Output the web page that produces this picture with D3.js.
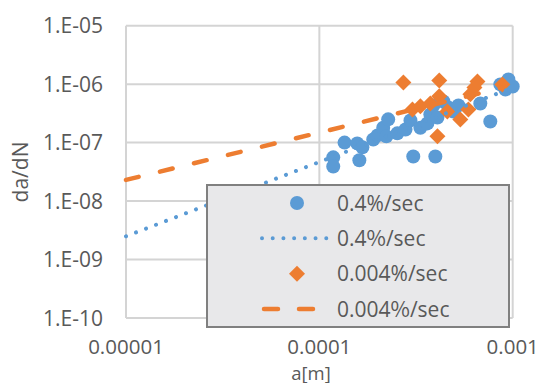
<!DOCTYPE html>
<html>
<head>
<meta charset="utf-8">
<script src="https://cdn.jsdelivr.net/npm/d3@7"></script>
<style>
  body { margin: 0; background: #fff; }
  text { font-family: "Open Sans", sans-serif; fill: #595959; }
</style>
</head>
<body>
<script>
// measured points, 0.4%/sec  [a, da/dN]
const fastPoints = [
  [1.18e-4, 5.6e-8], [1.18e-4, 3.9e-8], [1.35e-4, 1.0e-7], [1.57e-4, 9.7e-8],
  [1.67e-4, 8.3e-8], [1.61e-4, 5.0e-8], [1.90e-4, 1.13e-7], [2.0e-4, 1.33e-7],
  [2.14e-4, 1.8e-7], [2.27e-4, 2.5e-7], [2.22e-4, 1.28e-7], [2.53e-4, 1.44e-7],
  [2.79e-4, 1.68e-7], [2.96e-4, 2.4e-7], [3.06e-4, 5.8e-8], [3.33e-4, 1.8e-7],
  [3.62e-4, 2.13e-7], [3.75e-4, 3.03e-7], [3.89e-4, 4.33e-7], [3.98e-4, 5.8e-8],
  [4.08e-4, 2.69e-7], [4.38e-4, 5.06e-7], [4.65e-4, 4.0e-7], [4.93e-4, 3.41e-7],
  [5.24e-4, 4.33e-7], [6.8e-4, 4.68e-7], [7.66e-4, 2.3e-7], [8.63e-4, 9.9e-7],
  [9.17e-4, 8.1e-7], [9.5e-4, 1.2e-6], [1.0e-3, 9.1e-7]
]
// measured points, 0.004%/sec
const slowPoints = [
  [2.72e-4, 1.07e-6], [4.17e-4, 1.16e-6], [4.17e-4, 6.2e-7], [3.03e-4, 3.7e-7],
  [3.33e-4, 4.2e-7], [3.75e-4, 4.68e-7], [4.08e-4, 1.28e-7], [4.59e-4, 3.41e-7],
  [5.36e-4, 2.49e-7], [5.9e-4, 3.7e-7], [6.04e-4, 6.7e-7], [6.34e-4, 8.8e-7],
  [6.57e-4, 1.11e-6], [8.84e-4, 9.9e-7]
]
// trendline ends
const fastTrend = [[1e-5, 2.5e-9], [1.0e-3, 8.7e-7]]
const slowTrend = [[1e-5, 2.3e-8], [8.84e-4, 8.7e-7]]

const xTicks = [1e-5, 1e-4, 1e-3]
const xTickLabels = ["0.00001", "0.0001", "0.001"]
const yTicks = [1e-10, 1e-9, 1e-8, 1e-7, 1e-6, 1e-5]
const yTickLabels = ["1.E-10", "1.E-09", "1.E-08", "1.E-07", "1.E-06", "1.E-05"]

const legendItems = [
  { label: "0.4%/sec", kind: "circle", color: "#5b9bd5", cjk: false },
  { label: "0.4%/sec", kind: "dot", color: "#5b9bd5", cjk: true },
  { label: "0.004%/sec", kind: "diamond", color: "#ed7d31", cjk: false },
  { label: "0.004%/sec", kind: "dash", color: "#ed7d31", cjk: true }
]

const width = 544, height = 383
const svg = d3.select("body").append("svg").attr("width", width).attr("height", height)

const x = d3.scaleLog().domain([1e-5, 1e-3]).range([126, 512.7])
const y = d3.scaleLog().domain([1e-10, 1e-5]).range([318, 25.7])

// grid
const grid = svg.append("g").attr("stroke", "#d4d4d4").attr("stroke-width", 2)
grid.selectAll("line.h").data(yTicks).enter().append("line")
    .attr("x1", x(1e-5)).attr("x2", x(1e-3))
    .attr("y1", d => y(d)).attr("y2", d => y(d))
grid.selectAll("line.v").data(xTicks).enter().append("line")
    .attr("y1", y(1e-10)).attr("y2", y(1e-5))
    .attr("x1", d => x(d)).attr("x2", d => x(d))

// tick labels
svg.selectAll("text.yt").data(yTicks).enter().append("text")
    .attr("x", 103).attr("y", d => y(d)).attr("dy", "0.36em")
    .attr("text-anchor", "end").attr("font-size", 21)
    .text((d, i) => yTickLabels[i])
svg.selectAll("text.xt").data(xTicks).enter().append("text")
    .attr("x", d => x(d)).attr("y", 354)
    .attr("text-anchor", "middle").attr("font-size", 20.5)
    .text((d, i) => xTickLabels[i])

svg.append("text").attr("x", 311).attr("y", 379.5).attr("text-anchor", "middle")
    .attr("font-size", 18.5).text("a[m]")
svg.append("text").attr("transform", "translate(28,172) rotate(-90)")
    .attr("text-anchor", "middle").attr("font-size", 21).text("da/dN")

const diamond = d3.symbol().type(d3.symbolSquare).size(128)

// markers
svg.append("g").selectAll("circle").data(fastPoints).enter().append("circle")
    .attr("cx", d => x(d[0])).attr("cy", d => y(d[1])).attr("r", 7)
    .attr("fill", "#5b9bd5")
svg.append("g").selectAll("path").data(slowPoints).enter().append("path")
    .attr("d", diamond)
    .attr("transform", d => `translate(${x(d[0])},${y(d[1])}) rotate(45)`)
    .attr("fill", "#ed7d31")

// trendlines
const line = d3.line().x(d => x(d[0])).y(d => y(d[1]))
svg.append("path").datum(fastTrend).attr("d", line)
    .attr("fill", "none").attr("stroke", "#5b9bd5").attr("stroke-width", 4)
    .attr("stroke-linecap", "round").attr("stroke-dasharray", "0.01 10.7")
svg.append("path").datum(slowTrend).attr("d", line)
    .attr("fill", "none").attr("stroke", "#ed7d31").attr("stroke-width", 4.5)
    .attr("stroke-linecap", "round").attr("stroke-dasharray", "13 22")

// legend
const lg = svg.append("g")
lg.append("rect").attr("x", 207).attr("y", 185).attr("width", 302).attr("height", 142)
    .attr("fill", "#e8e8ea").attr("stroke", "#808080").attr("stroke-width", 2)

const rowY = d3.scalePoint().domain(d3.range(legendItems.length)).range([203, 309])
legendItems.forEach((item, i) => {
    const cy = rowY(i)
    if (item.kind === "circle") {
        lg.append("circle").attr("cx", 297).attr("cy", cy).attr("r", 7).attr("fill", item.color)
    } else if (item.kind === "diamond") {
        lg.append("path").attr("d", diamond)
            .attr("transform", `translate(297,${cy}) rotate(45)`).attr("fill", item.color)
    } else {
        lg.append("line").attr("x1", item.kind === "dot" ? 262 : 264).attr("x2", 330)
            .attr("y1", cy).attr("y2", cy)
            .attr("stroke", item.color).attr("stroke-linecap", "round")
            .attr("stroke-width", item.kind === "dot" ? 4 : 4.5)
            .attr("stroke-dasharray", item.kind === "dot" ? "0.01 10.7" : "14 21")
    }
    const t = lg.append("text").attr("x", 337).attr("y", cy).attr("dy", "0.36em")
        .attr("font-size", 21)
    if (item.cjk) {
        const parts = item.label.split("%")
        t.append("tspan").text(parts[0])
        t.append("tspan").attr("font-family", "Noto Sans CJK JP").text("%")
        t.append("tspan").text(parts[1])
    } else {
        t.text(item.label)
    }
})
</script>
</body>
</html>
